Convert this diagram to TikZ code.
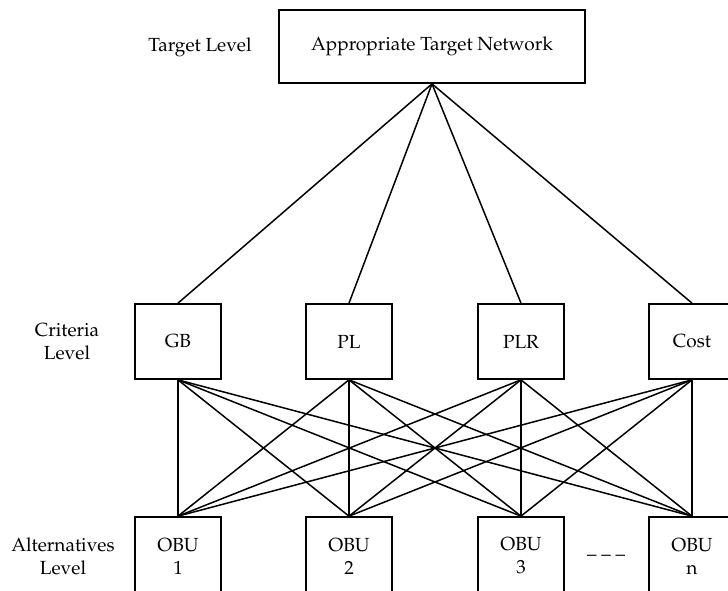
\documentclass[tikz,border=0pt]{standalone}
\usepackage[T1]{fontenc}
\usepackage{mathpazo}
\usepackage{tikz}
\usetikzlibrary{positioning}

\begin{document}
\begin{tikzpicture}[x=1pt,y=-1pt,font=\fontsize{19}{23}\selectfont,
    box/.style={draw,line width=1.7pt,minimum width=86pt,minimum height=75pt,inner sep=0pt,align=center},
    link/.style={line width=1.5pt}]
  \useasboundingbox (0,0) rectangle (728,590);
  \clip (0,0) rectangle (728,590);
  % goal
  \node[box,minimum width=306pt,minimum height=73pt] (target) at (432,46.5) {Appropriate Target Network};
  \node (targetlvl) at (200,47) {Target Level};
  % criteria
  \node[box] (gb) at (178,341.5) {GB};
  \node[box] (pl) at (349,341.5) {PL};
  \node[box] (plr) at (521,341.5) {PLR};
  \node[box] (cost) at (692,341.5) {Cost};
  \node[align=center] (critlvl) at (67,342) {Criteria\\Level};
  % alternatives
  \node[box,minimum height=78pt] (obu1) at (178,556) {OBU\\1};
  \node[box,minimum height=78pt] (obu2) at (349,556) {OBU\\2};
  \node[box,minimum height=78pt] (obu3) at (521,556) {OBU\\3};
  \node[box,minimum height=78pt] (obun) at (692,556) {OBU\\n};
  \node (more) at (606,558) {-- -- --};
  \node[align=center] (altlvl) at (63,556) {Alternatives\\Level};
  \foreach \c in {gb,pl,plr,cost}
    \draw[link] (target.south) -- (\c.north);
  \foreach \c in {gb,pl,plr,cost}
    \foreach \a in {obu1,obu2,obu3,obun}
      \draw[link] (\c.south) -- (\a.north);
\end{tikzpicture}
\end{document}
